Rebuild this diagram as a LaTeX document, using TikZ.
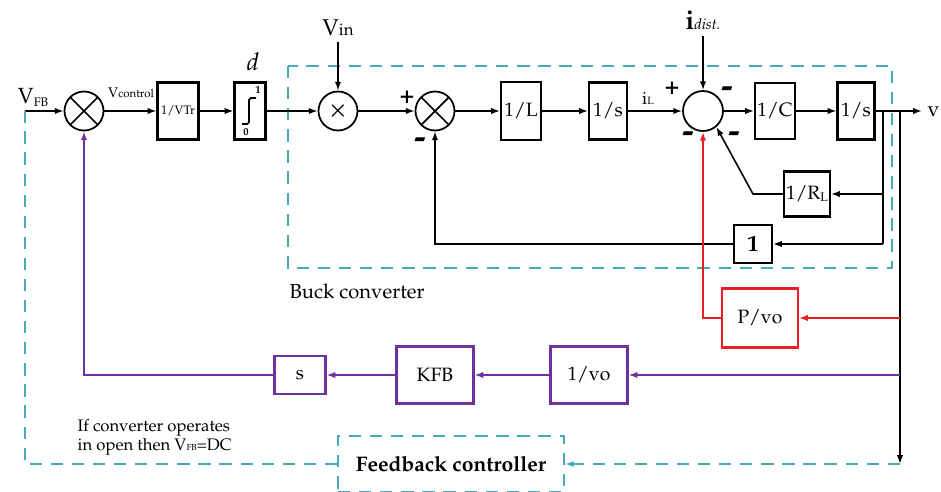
\documentclass[tikz,border=0pt]{standalone}
\usepackage[T1]{fontenc}
\usepackage{mathpazo}
\usepackage{tikz}
\usetikzlibrary{arrows.meta, positioning, calc}
\definecolor{buckteal}{RGB}{72,168,190}
\definecolor{fbpurple}{RGB}{112,48,160}
\definecolor{loadred}{RGB}{235,30,35}

\tikzset{
  blk/.style={draw, line width=1.2pt, inner sep=0pt, font=\fontsize{11}{11}\selectfont},
  sumx/.style={draw, circle, line width=1pt, minimum size=0.78cm, inner sep=0pt,
    path picture={\draw[line width=1pt] (path picture bounding box.north west) -- (path picture bounding box.south east)
      (path picture bounding box.north east) -- (path picture bounding box.south west);}},
  sumo/.style={draw, circle, line width=1pt, minimum size=0.8cm, inner sep=0pt},
  fbdash/.style={buckteal, line width=1pt, dash pattern=on 7pt off 5pt},
  sgn/.style={font=\bfseries\fontsize{20}{20}\selectfont, inner sep=0pt},
  plus/.style={font=\bfseries\fontsize{14}{14}\selectfont, inner sep=0pt}
}

\begin{document}
\begin{tikzpicture}[x=0.02cm, y=-0.02cm, >={Latex[length=5pt,width=3.6pt]}, line width=0.9pt]
  \useasboundingbox (0,0) rectangle (941,491);

  % Buck converter frame
  \draw[fbdash] (288,66) rectangle (892,268);
  \node[anchor=west, font=\fontsize{11.5}{11.5}\selectfont] (bucklbl) at (283,291) {Buck converter};

  % Modulator
  \coordinate (vfb) at (25,111);
  \node[font=\fontsize{12.5}{12.5}\selectfont] (vfblbl) at (33,97) {V\lower0.3ex\hbox{\fontsize{7}{7}\selectfont FB}};
  \node[sumx] (sum1) at (84,111) {};
  \node[blk, minimum width=0.82cm, minimum height=1.14cm, font=\fontsize{7}{7}\selectfont] (gain) at (178,111) {1/VTr};
  \node[blk, minimum width=0.62cm, minimum height=1.14cm] (sat) at (250,111) {};
  \draw[line width=1pt, rounded corners=1pt] (242,124) -- (249,124) -- (249,98) -- (256,98);
  \node[font=\bfseries\fontsize{6}{6}\selectfont] (satone) at (258,90) {1};
  \node[font=\bfseries\fontsize{6}{6}\selectfont] (satzero) at (246,132) {0};
  \node[font=\itshape\fontsize{14}{14}\selectfont] (dlbl) at (253,62) {d};
  \node[font=\fontsize{8}{8}\selectfont] (vclbl) at (131,93) {V{\fontsize{6.5}{6.5}\selectfont control}};

  \draw[->] (vfb) -- (sum1);
  \draw[->] (sum1) -- (gain);
  \draw[->] (gain) -- (sat);

  % Power stage
  \node[sumo, minimum size=0.78cm, font=\fontsize{12}{12}\selectfont\boldmath] (mult) at (338,111) {$\times$};
  \coordinate (vin) at (338,42);
  \node[font=\fontsize{13}{13}\selectfont] (vinlbl) at (338,28) {V{\fontsize{9.5}{9.5}\selectfont in}};
  \node[sumx] (sum2) at (435,111) {};
  \node[plus] (plus2) at (407,97) {+};
  \node[sgn] (minus2) at (420,143) {-};
  \node[blk, minimum width=0.8cm, minimum height=1.16cm] (invL) at (521,111) {1/L};
  \node[blk, minimum width=0.76cm, minimum height=1.14cm] (int1) at (608,111) {1/s};
  \node[font=\fontsize{10}{10}\selectfont] (illbl) at (648,98) {i{\fontsize{6}{6}\selectfont L}};

  \node[sumo] (sum3) at (703,111) {};
  \coordinate (idist) at (703,36);
  \node (idlbl) at (703,20) {{\bfseries\fontsize{15}{15}\selectfont i}{\itshape\fontsize{8.5}{8.5}\selectfont dist.}};
  \node[plus] (plus3) at (672,88) {+};
  \node[sgn] (minus3a) at (727,92) {-};
  \node[sgn] (minus3b) at (688,137) {-};
  \node[sgn] (minus3c) at (734,137) {-};
  \node[blk, minimum width=0.8cm, minimum height=1.12cm] (invC) at (775,111) {1/C};
  \node[blk, minimum width=0.74cm, minimum height=1.14cm] (int2) at (856,111) {1/s};
  \coordinate (vout) at (922,111);
  \node[anchor=west, inner sep=1pt, font=\fontsize{12}{12}\selectfont] (vlbl) at (925,112) {v};

  \draw[->] (sat) -- (mult);
  \draw[->] (vin) -- (mult);
  \draw[->] (mult) -- (sum2);
  \draw[->] (sum2) -- (invL);
  \draw[->] (invL) -- (int1);
  \draw[->] (int1) -- (sum3);
  \draw[->] (idist) -- (sum3);
  \draw[->] (sum3) -- (invC);
  \draw[->] (invC) -- (int2);
  \draw[->] (int2) -- (vout);

  % Load and inner feedback
  \coordinate (tapA) at (883,111);
  \coordinate (tapAend) at (883,244);
  \node[blk, minimum width=0.92cm, minimum height=0.9cm] (RL) at (807,194) {1/R\lower0.2ex\hbox{\fontsize{7}{7}\selectfont L}};
  \node[blk, minimum width=0.76cm, minimum height=0.76cm, font=\bfseries\fontsize{13}{13}\selectfont] (one) at (753,244) {1};
  \coordinate (rlk) at (753,194);

  \draw (tapA) -- (tapAend);
  \draw[->] (tapA |- RL.east) -- (RL.east);
  \draw[->] (RL.west) -- (rlk) -- (sum3.-50);
  \draw[->] (tapAend) -- (one.east);
  \draw[->] (one.west) -| (sum2.south);

  % Outer feedback
  \coordinate (tapB) at (900,111);
  \coordinate (fbtap) at (900,464);
  \node[blk, draw=loadred, minimum width=1.52cm, minimum height=1.18cm] (pvo) at (760,318) {P/vo};
  \node[blk, draw=fbpurple, minimum width=1.54cm, minimum height=1.14cm] (ovo) at (589,375) {1/vo};
  \node[blk, draw=fbpurple, minimum width=1.54cm, minimum height=1.14cm] (kfb) at (435,375) {KFB};
  \node[blk, draw=fbpurple, minimum width=1.02cm, minimum height=0.76cm] (sd) at (300,375) {s};
  \node[draw=buckteal, line width=1pt, dash pattern=on 7pt off 5pt, minimum width=4.52cm, minimum height=1.12cm,
    font=\bfseries\fontsize{12}{12}\selectfont] (fbc) at (451,464) {Feedback controller};
  \node[anchor=west, align=left, font=\fontsize{9.5}{11}\selectfont] (note) at (71,437)
    {If converter operates\\in open then V{\fontsize{5}{5}\selectfont FB}=DC};

  \draw[->] (tapB) -- (fbtap);
  \draw[loadred, ->] (tapB |- pvo.east) -- (pvo.east);
  \draw[loadred, ->] (pvo.west) -| (sum3.south);
  \draw[fbpurple, ->] (tapB |- ovo.east) -- (ovo.east);
  \draw[fbpurple, ->] (ovo) -- (kfb);
  \draw[fbpurple, ->] (kfb) -- (sd);
  \draw[fbpurple, ->] (sd.west) -| (sum1.south);
  \draw[fbdash, ->] (fbtap) -- (fbc.east);
  \draw[fbdash] (fbc.west) -| (vfb);
\end{tikzpicture}
\end{document}
